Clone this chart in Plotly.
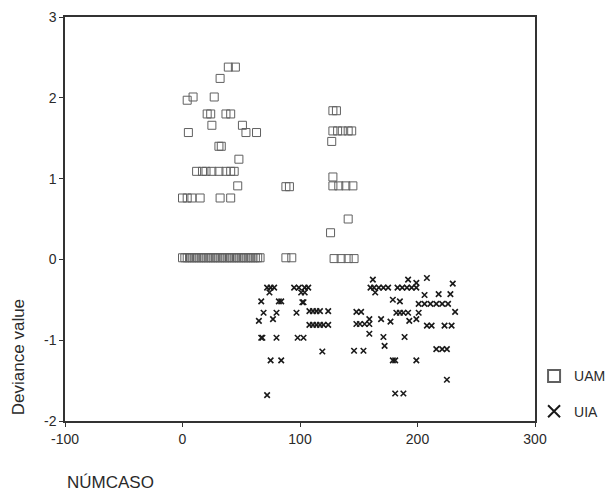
import plotly.graph_objects as go

# UAM (open squares)
uam_x = [39, 45, 32, 4, 9, 27, 21, 24, 37, 41, 25, 51, 5, 54, 63, 31, 33, 48,
         12, 17, 20, 25, 31, 37, 41, 44, 47, 88, 91, 0, 4, 8, 15, 32, 41,
         0, 2, 4, 6, 8, 10, 12, 14, 16, 18, 20, 22, 24, 26, 28, 30, 32, 34, 36,
         38, 40, 42, 44, 46, 48, 50, 52, 54, 56, 58, 60, 62, 64, 66, 88, 93,
         128, 131, 128, 132, 136, 141, 144, 127, 128, 128, 133, 139, 145,
         141, 126, 129, 135, 141, 146]
uam_y = [2.38, 2.38, 2.24, 1.97, 2.01, 2.01, 1.80, 1.80, 1.80, 1.80, 1.66, 1.66,
         1.57, 1.57, 1.57, 1.40, 1.40, 1.24,
         1.09, 1.09, 1.09, 1.09, 1.09, 1.09, 1.09, 1.09, 0.91, 0.90, 0.90,
         0.76, 0.76, 0.76, 0.76, 0.76, 0.76,
         0.02, 0.02, 0.02, 0.02, 0.02, 0.02, 0.02, 0.02, 0.02, 0.02, 0.02, 0.02,
         0.02, 0.02, 0.02, 0.02, 0.02, 0.02, 0.02, 0.02, 0.02, 0.02, 0.02, 0.02,
         0.02, 0.02, 0.02, 0.02, 0.02, 0.02, 0.02, 0.02, 0.02, 0.02, 0.02, 0.02,
         1.84, 1.84, 1.59, 1.59, 1.59, 1.59, 1.59, 1.46, 1.02, 0.91, 0.91, 0.91, 0.91,
         0.50, 0.33, 0.01, 0.01, 0.01, 0.01]

# UIA (crosses)
uia_x = [72, 75, 78, 74, 95, 99, 104, 107, 101, 104, 67, 82, 84, 102, 103,
         69, 80, 65, 77, 97, 108, 111, 114, 117, 124, 108, 111, 114, 117, 120, 124,
         67, 68, 80, 98, 103, 119, 75, 84, 72,
         162, 160, 163, 167, 171, 175, 164, 183, 187, 191, 195, 199,
         192, 199, 208, 230, 179, 185, 206, 218, 228,
         201, 206, 211, 216, 221, 226, 232, 148, 152,
         182, 185, 188, 192, 201, 148, 151, 155, 159, 159,
         169, 177, 193, 199, 208, 212, 223, 229,
         159, 171, 172, 189, 146, 154, 216, 221, 225,
         179, 181, 199, 225, 181, 188]
uia_y = [-0.35, -0.35, -0.35, -0.41, -0.35, -0.35, -0.35, -0.35, -0.41, -0.41,
         -0.52, -0.52, -0.52, -0.53, -0.53,
         -0.66, -0.66, -0.76, -0.74, -0.66, -0.64, -0.64, -0.64, -0.64, -0.64,
         -0.81, -0.81, -0.81, -0.81, -0.81, -0.81,
         -0.97, -0.97, -0.97, -0.97, -0.97, -1.14, -1.25, -1.25, -1.68,
         -0.25, -0.35, -0.35, -0.35, -0.35, -0.35, -0.41, -0.35, -0.35, -0.35,
         -0.35, -0.35,
         -0.25, -0.29, -0.23, -0.30, -0.50, -0.52, -0.44, -0.43, -0.43,
         -0.55, -0.55, -0.55, -0.55, -0.55, -0.55, -0.65, -0.65, -0.65,
         -0.66, -0.66, -0.66, -0.66, -0.66, -0.80, -0.80, -0.80, -0.80, -0.74,
         -0.74, -0.77, -0.76, -0.74, -0.82, -0.82, -0.82, -0.82,
         -0.92, -0.96, -1.07, -0.96, -1.13, -1.13, -1.11, -1.11, -1.11,
         -1.25, -1.25, -1.25, -1.49, -1.66, -1.66]

x_ticks = [-100, 0, 100, 200, 300]
x_tick_labels = ["-100", "0", "100", "200", "300"]
y_ticks = [-2, -1, 0, 1, 2, 3]
y_tick_labels = ["-2", "-1", "0", "1", "2", "3"]

FONT = "Arial, Liberation Sans, sans-serif"
TXT = "#2a2a2a"

fig = go.Figure()
fig.add_trace(go.Scatter(
    x=uam_x, y=uam_y, mode="markers", name="UAM", legendgroup="a",
    marker=dict(symbol="square-open", size=8, color="#606060",
                line=dict(width=1.0, color="#606060")),
))
fig.add_trace(go.Scatter(
    x=uia_x, y=uia_y, mode="markers", name="UIA", legendgroup="b",
    marker=dict(symbol="x-thin", size=5.5, color="#1a1a1a",
                line=dict(width=1.6, color="#1a1a1a")),
))

axis_common = dict(
    showgrid=False, zeroline=False, showline=True, mirror=True,
    linecolor="#333333", linewidth=1.5, ticks="outside", ticklen=4,
    tickcolor="#333333", tickfont=dict(family=FONT, size=14, color=TXT),
)
fig.update_xaxes(range=[-100, 300], tickvals=x_ticks, ticktext=x_tick_labels,
                 **axis_common)
fig.update_yaxes(range=[-2, 3], tickvals=y_ticks, ticktext=y_tick_labels,
                 **axis_common)

fig.update_layout(
    width=605, height=492,
    margin=dict(l=65, r=70, t=17, b=71, autoexpand=False),
    paper_bgcolor="white", plot_bgcolor="white",
    font=dict(family=FONT, color=TXT),
    showlegend=True,
    legend=dict(x=0.998, xanchor="left", y=0.15, yanchor="top",
                font=dict(family=FONT, size=14, color=TXT),
                tracegroupgap=14, itemsizing="constant",
                bgcolor="rgba(0,0,0,0)"),
    annotations=[
        dict(text="Deviance value", xref="paper", yref="paper",
             x=-0.1, y=0.158, textangle=-90, showarrow=False,
             xanchor="center", yanchor="middle",
             font=dict(family=FONT, size=17, color=TXT)),
        dict(text="NÚMCASO", xref="paper", yref="paper",
             x=0.0, y=-0.153, showarrow=False,
             xanchor="left", yanchor="middle",
             font=dict(family=FONT, size=17, color=TXT)),
    ],
)

fig.write_html("out.html")
